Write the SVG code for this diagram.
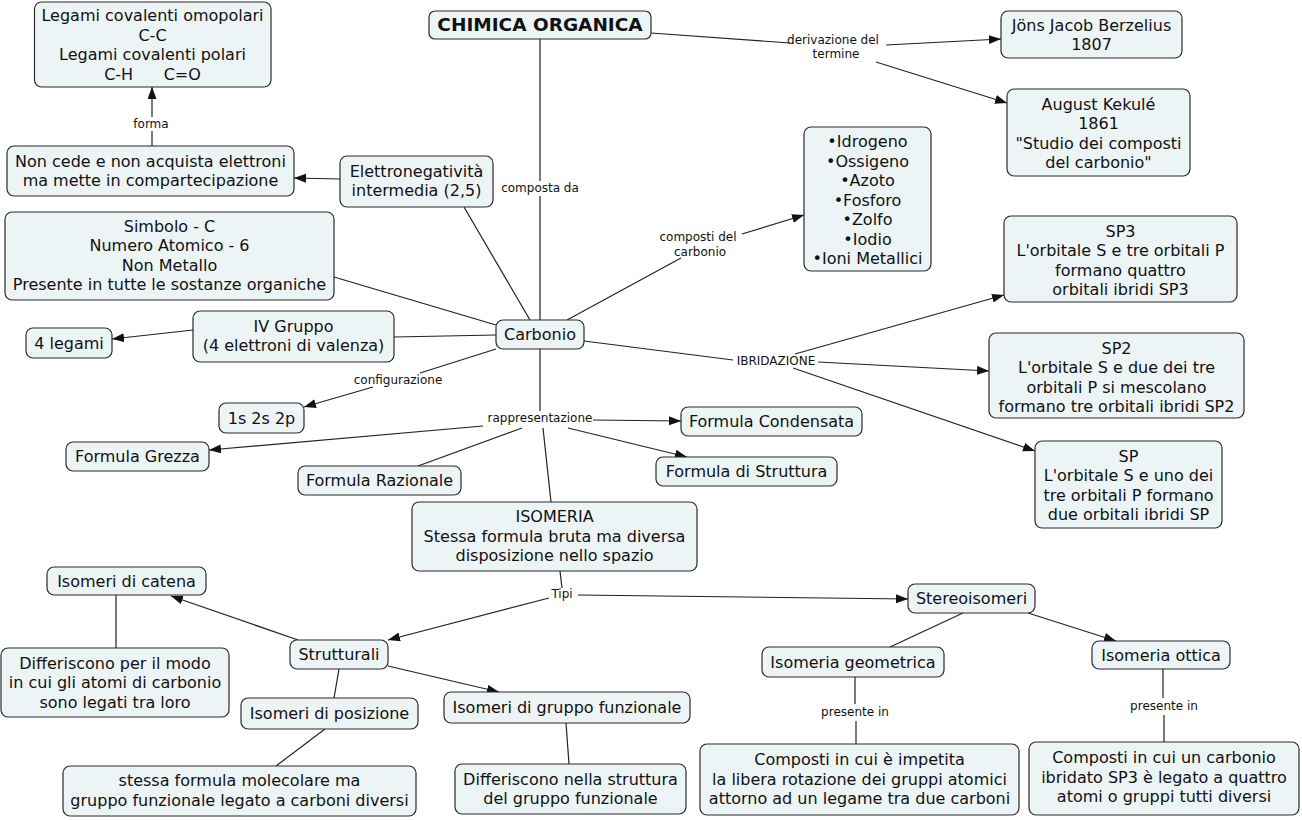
<svg xmlns="http://www.w3.org/2000/svg" width="1302" height="820" viewBox="0 0 1302 820">
<style>
.n rect{fill:#EDF4F6;stroke:#2b2b2b;stroke-width:1.2}
.n text{font-family:"DejaVu Sans",Verdana,sans-serif;font-size:16px;text-anchor:middle;fill:#111}
.title text{font-weight:bold;font-size:18.5px}
.lb{font-family:"DejaVu Sans",Verdana,sans-serif;font-size:12px;text-anchor:middle;fill:#111}
#connectors line{stroke:#222;stroke-width:1.2}
.a{marker-end:url(#arr)}
</style>
<defs>
<marker id="arr" markerUnits="userSpaceOnUse" markerWidth="13" markerHeight="10" refX="12" refY="4.5" orient="auto">
<path d="M0,0 L12,4.5 L0,9 z" fill="#111"/>
</marker>
</defs>
<rect width="1302" height="820" fill="#fff"/>
<g id="connectors">
<line x1="540" y1="39" x2="540" y2="181"/>
<line x1="540" y1="196" x2="540" y2="320"/>
<line x1="651" y1="33" x2="790" y2="43"/>
<line class="a" x1="886" y1="45" x2="1001" y2="39"/>
<line class="a" x1="876" y1="62" x2="1007" y2="103"/>
<line x1="152" y1="146" x2="152" y2="131"/>
<line class="a" x1="152" y1="117" x2="152" y2="87"/>
<line class="a" x1="340" y1="179" x2="294" y2="178"/>
<line x1="530" y1="320" x2="464" y2="207"/>
<line x1="567" y1="320" x2="681" y2="258"/>
<line class="a" x1="742" y1="234" x2="804" y2="215"/>
<line x1="496" y1="325" x2="334" y2="277"/>
<line x1="496" y1="335" x2="394" y2="337"/>
<line class="a" x1="193" y1="330" x2="112" y2="339"/>
<line x1="496" y1="349" x2="420" y2="373"/>
<line class="a" x1="373" y1="387" x2="304" y2="407"/>
<line x1="540" y1="349" x2="540" y2="411"/>
<line class="a" x1="593" y1="420" x2="681" y2="421"/>
<line class="a" x1="483" y1="426" x2="209" y2="450"/>
<line x1="522" y1="428" x2="418" y2="466"/>
<line class="a" x1="568" y1="428" x2="687" y2="457"/>
<line x1="543" y1="428" x2="551" y2="502"/>
<line x1="584" y1="341" x2="733" y2="360"/>
<line class="a" x1="795" y1="354" x2="1004" y2="295"/>
<line class="a" x1="818" y1="362" x2="989" y2="371"/>
<line class="a" x1="793" y1="368" x2="1035" y2="451"/>
<line x1="560" y1="571" x2="562" y2="588"/>
<line class="a" x1="578" y1="595" x2="908" y2="599"/>
<line class="a" x1="549" y1="598" x2="388" y2="640"/>
<line class="a" x1="298" y1="640" x2="171" y2="596"/>
<line x1="116" y1="595" x2="116" y2="648"/>
<line x1="339" y1="669" x2="334" y2="698"/>
<line class="a" x1="388" y1="666" x2="499" y2="692"/>
<line x1="325" y1="729" x2="276" y2="766"/>
<line x1="566" y1="723" x2="569" y2="764"/>
<line x1="963" y1="613" x2="890" y2="647"/>
<line class="a" x1="1028" y1="613" x2="1116" y2="641"/>
<line x1="855" y1="677" x2="855" y2="704"/>
<line x1="856" y1="721" x2="856" y2="744"/>
<line x1="1163" y1="669" x2="1163" y2="698"/>
<line x1="1164" y1="715" x2="1164" y2="742"/>
<text class="lb" x="540" y="192">composta da</text>
<text class="lb" x="833" y="44">derivazione del</text>
<text class="lb" x="836" y="58">termine</text>
<text class="lb" x="151" y="128">forma</text>
<text class="lb" x="698" y="241">composti del</text>
<text class="lb" x="700" y="256">carbonio</text>
<text class="lb" x="398" y="384">configurazione</text>
<text class="lb" x="540" y="422">rappresentazione</text>
<text class="lb" x="776" y="365">IBRIDAZIONE</text>
<text class="lb" x="562" y="598">Tipi</text>
<text class="lb" x="855" y="716">presente in</text>
<text class="lb" x="1164" y="710">presente in</text>
</g>
<g id="n-chimica" class="n title"><rect x="429" y="11" width="222" height="28" rx="6"/><text x="540" y="31">CHIMICA ORGANICA</text></g>
<g id="n-legami" class="n"><rect x="34.5" y="2" width="236.5" height="85" rx="7"/><text x="152.5" y="21">Legami covalenti omopolari</text><text x="152.5" y="40.5">C-C</text><text x="152.5" y="60">Legami covalenti polari</text><text x="152.5" y="79.5" xml:space="preserve">C-H      C=O</text></g>
<g id="n-noncede" class="n"><rect x="7" y="146" width="287" height="50" rx="7"/><text x="150.5" y="166.5">Non cede e non acquista elettroni</text><text x="150.5" y="186">ma mette in compartecipazione</text></g>
<g id="n-elettro" class="n"><rect x="340" y="156" width="153" height="51" rx="7"/><text x="416.5" y="176.5">Elettronegatività</text><text x="416.5" y="196">intermedia (2,5)</text></g>
<g id="n-simbolo" class="n"><rect x="5" y="212" width="329" height="88" rx="7"/><text x="169.5" y="231.5">Simbolo - C</text><text x="169.5" y="251">Numero Atomico - 6</text><text x="169.5" y="270.5">Non Metallo</text><text x="169.5" y="290">Presente in tutte le sostanze organiche</text></g>
<g id="n-4legami" class="n"><rect x="26" y="328" width="86" height="30" rx="7"/><text x="69" y="348.5">4 legami</text></g>
<g id="n-ivgruppo" class="n"><rect x="193" y="311" width="201" height="51" rx="7"/><text x="293.5" y="331.5">IV Gruppo</text><text x="293.5" y="351">(4 elettroni di valenza)</text></g>
<g id="n-carbonio" class="n"><rect x="496" y="320" width="88" height="29" rx="7"/><text x="540" y="340">Carbonio</text></g>
<g id="n-1s" class="n"><rect x="219" y="403" width="85" height="30" rx="7"/><text x="261.5" y="423.5">1s 2s 2p</text></g>
<g id="n-grezza" class="n"><rect x="66" y="442" width="143" height="29" rx="7"/><text x="137.5" y="462">Formula Grezza</text></g>
<g id="n-razionale" class="n"><rect x="298" y="466" width="163" height="29" rx="7"/><text x="379.5" y="486">Formula Razionale</text></g>
<g id="n-condensata" class="n"><rect x="681" y="407" width="181" height="29" rx="7"/><text x="771.5" y="427">Formula Condensata</text></g>
<g id="n-struttura" class="n"><rect x="656" y="457" width="181" height="29" rx="7"/><text x="746.5" y="477">Formula di Struttura</text></g>
<g id="n-isomeria" class="n"><rect x="412" y="502" width="285" height="69" rx="7"/><text x="554.5" y="522">ISOMERIA</text><text x="554.5" y="541.5">Stessa formula bruta ma diversa</text><text x="554.5" y="561">disposizione nello spazio</text></g>
<g id="n-berzelius" class="n"><rect x="1001" y="11" width="181" height="47" rx="7"/><text x="1091.5" y="30.5">Jöns Jacob Berzelius</text><text x="1091.5" y="50">1807</text></g>
<g id="n-kekule" class="n"><rect x="1007" y="89" width="183" height="87" rx="7"/><text x="1098.5" y="109.5">August Kekulé</text><text x="1098.5" y="129">1861</text><text x="1098.5" y="148.5">"Studio dei composti</text><text x="1098.5" y="168">del carbonio"</text></g>
<g id="n-elementi" class="n"><rect x="804" y="127" width="127" height="144" rx="7"/><text x="867.5" y="147">•Idrogeno</text><text x="867.5" y="166.5">•Ossigeno</text><text x="867.5" y="186">•Azoto</text><text x="867.5" y="205.5">•Fosforo</text><text x="867.5" y="225">•Zolfo</text><text x="867.5" y="244.5">•Iodio</text><text x="867.5" y="264">•Ioni Metallici</text></g>
<g id="n-sp3" class="n"><rect x="1004" y="216" width="233" height="86" rx="7"/><text x="1120.5" y="236.5">SP3</text><text x="1120.5" y="256">L'orbitale S e tre orbitali P</text><text x="1120.5" y="275.5">formano quattro</text><text x="1120.5" y="295">orbitali ibridi SP3</text></g>
<g id="n-sp2" class="n"><rect x="989" y="333" width="255" height="85" rx="7"/><text x="1116.5" y="353.5">SP2</text><text x="1116.5" y="373">L'orbitale S e due dei tre</text><text x="1116.5" y="392.5">orbitali P si mescolano</text><text x="1116.5" y="412">formano tre orbitali ibridi SP2</text></g>
<g id="n-sp" class="n"><rect x="1035" y="441" width="187" height="87" rx="7"/><text x="1128.5" y="461.5">SP</text><text x="1128.5" y="481">L'orbitale S e uno dei</text><text x="1128.5" y="500.5">tre orbitali P formano</text><text x="1128.5" y="520">due orbitali ibridi SP</text></g>
<g id="n-catena" class="n"><rect x="47" y="567" width="159" height="28" rx="7"/><text x="126.5" y="587">Isomeri di catena</text></g>
<g id="n-diffmodo" class="n"><rect x="1" y="648" width="228" height="69" rx="7"/><text x="115" y="668.5">Differiscono per il modo</text><text x="115" y="688">in cui gli atomi di carbonio</text><text x="115" y="707.5">sono legati tra loro</text></g>
<g id="n-strutturali" class="n"><rect x="290" y="640" width="98" height="29" rx="7"/><text x="339" y="660">Strutturali</text></g>
<g id="n-posizione" class="n"><rect x="241" y="698" width="177" height="31" rx="7"/><text x="329.5" y="719">Isomeri di posizione</text></g>
<g id="n-gruppo" class="n"><rect x="444" y="692" width="246" height="31" rx="7"/><text x="567" y="713">Isomeri di gruppo funzionale</text></g>
<g id="n-stessa" class="n"><rect x="63" y="766" width="353" height="50" rx="7"/><text x="239.5" y="786">stessa formula molecolare ma</text><text x="239.5" y="805.5">gruppo funzionale legato a carboni diversi</text></g>
<g id="n-diffstrutt" class="n"><rect x="455" y="764" width="231" height="50" rx="7"/><text x="570.5" y="784.5">Differiscono nella struttura</text><text x="570.5" y="804">del gruppo funzionale</text></g>
<g id="n-stereo" class="n"><rect x="908" y="584" width="127" height="29" rx="7"/><text x="971.5" y="604">Stereoisomeri</text></g>
<g id="n-geom" class="n"><rect x="762" y="647" width="182" height="30" rx="7"/><text x="853" y="667.5">Isomeria geometrica</text></g>
<g id="n-ottica" class="n"><rect x="1092" y="641" width="138" height="28" rx="7"/><text x="1161" y="661">Isomeria ottica</text></g>
<g id="n-compgeom" class="n"><rect x="700" y="744" width="319" height="71" rx="7"/><text x="859.5" y="765">Composti in cui è impetita</text><text x="859.5" y="784.5">la libera rotazione dei gruppi atomici</text><text x="859.5" y="804">attorno ad un legame tra due carboni</text></g>
<g id="n-compott" class="n"><rect x="1029" y="742" width="270" height="73" rx="7"/><text x="1164" y="763">Composti in cui un carbonio</text><text x="1164" y="782.5">ibridato SP3 è legato a quattro</text><text x="1164" y="802">atomi o gruppi tutti diversi</text></g>
</svg>
